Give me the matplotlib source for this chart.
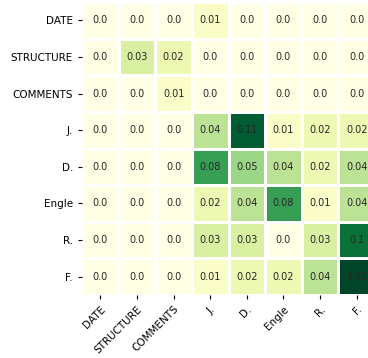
import matplotlib
matplotlib.use("Agg")
import matplotlib.pyplot as plt
import numpy as np

row_labels = ["DATE", "STRUCTURE", "COMMENTS", "J.", "D.", "Engle", "R.", "F."]
col_labels = ["DATE", "STRUCTURE", "COMMENTS", "J.", "D.", "Engle", "R.", "F."]

row_date      = [0.0, 0.0, 0.0, 0.01, 0.0, 0.0, 0.0, 0.0]
row_structure = [0.0, 0.03, 0.02, 0.0, 0.0, 0.0, 0.0, 0.0]
row_comments  = [0.0, 0.0, 0.01, 0.0, 0.0, 0.0, 0.0, 0.0]
row_j         = [0.0, 0.0, 0.0, 0.04, 0.11, 0.01, 0.02, 0.02]
row_d         = [0.0, 0.0, 0.0, 0.08, 0.05, 0.04, 0.02, 0.04]
row_engle     = [0.0, 0.0, 0.0, 0.02, 0.04, 0.08, 0.01, 0.04]
row_r         = [0.0, 0.0, 0.0, 0.03, 0.03, 0.0, 0.03, 0.1]
row_f         = [0.0, 0.0, 0.0, 0.01, 0.02, 0.02, 0.04, 0.12]

data = np.array([row_date, row_structure, row_comments, row_j,
                 row_d, row_engle, row_r, row_f])

W, H = 368, 358
fig = plt.figure(figsize=(W / 100, H / 100), dpi=100)
ax = fig.add_axes([82 / W, 1 - 295 / H, 293 / W, 293 / H])

ax.pcolormesh(data, cmap="YlGn", vmin=0, vmax=0.12,
              edgecolors="white", linewidth=1.0)
ax.set_xlim(0, data.shape[1])
ax.set_ylim(data.shape[0], 0)

for i in range(data.shape[0]):
    for j in range(data.shape[1]):
        ax.text(j + 0.5, i + 0.5, str(data[i, j]), ha="center", va="center",
                fontsize=7, color="#262626")

ax.set_xticks(np.arange(data.shape[1]) + 0.5)
ax.set_yticks(np.arange(data.shape[0]) + 0.5)
ax.set_xticklabels(col_labels, rotation=45, ha="right", rotation_mode="anchor",
                   fontsize=7.5)
ax.set_yticklabels(row_labels, fontsize=7.5)
ax.tick_params(length=3, width=0.8)
for s in ax.spines.values():
    s.set_visible(False)

fig.savefig("out.png", dpi=100)
